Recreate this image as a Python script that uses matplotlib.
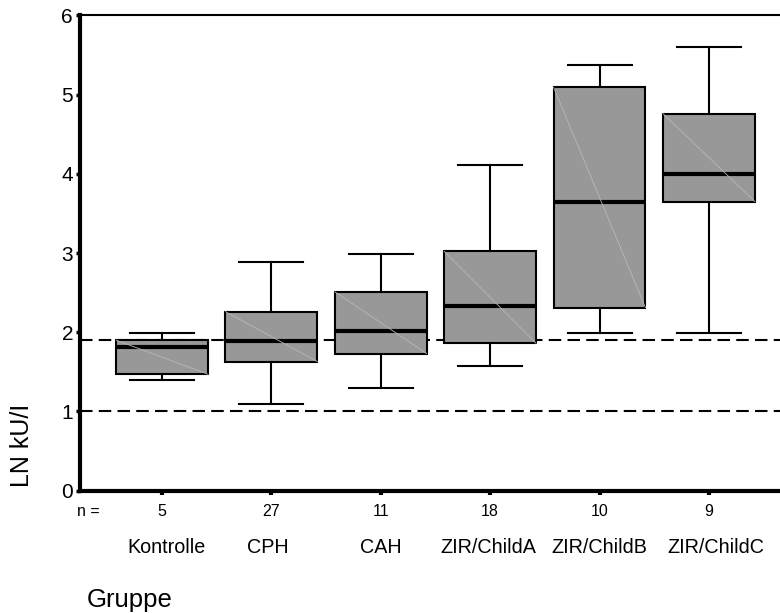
import matplotlib
matplotlib.use("Agg")
import matplotlib.pyplot as plt

plt.rcParams['font.family'] = ['Liberation Sans', 'DejaVu Sans']

categories = ["Kontrolle", "CPH", "CAH", "ZIR/ChildA", "ZIR/ChildB", "ZIR/ChildC"]
counts = [5, 27, 11, 18, 10, 9]
whislo = [1.40, 1.10, 1.30, 1.58, 1.99, 1.99]
q1 = [1.47, 1.63, 1.73, 1.86, 2.31, 3.65]
med = [1.81, 1.89, 2.02, 2.33, 3.65, 4.00]
q3 = [1.90, 2.26, 2.51, 3.02, 5.09, 4.76]
whishi = [1.99, 2.89, 2.99, 4.11, 5.37, 5.60]
ref_lines = [1.0, 1.9]
y_ticks = [0, 1, 2, 3, 4, 5, 6]

fig = plt.figure(figsize=(7.8, 6.13), dpi=100)
ax = fig.add_axes([0.1026, 0.1995, 0.8974, 0.7755])

positions = list(range(1, len(categories) + 1))
stats = []
for i, c in enumerate(categories):
    stats.append(dict(label=c, whislo=whislo[i], q1=q1[i], med=med[i],
                      q3=q3[i], whishi=whishi[i], fliers=[]))

for y in ref_lines:
    ax.axhline(y, color='black', lw=1.5, ls=(0, (6, 3)), zorder=1)

bp = ax.bxp(stats, positions=positions, widths=0.84, capwidths=0.585,
            patch_artist=True, showfliers=False, manage_ticks=False,
            boxprops=dict(facecolor='#989898', edgecolor='black', linewidth=1.5),
            medianprops=dict(color='black', linewidth=3),
            whiskerprops=dict(color='black', linewidth=1.5),
            capprops=dict(color='black', linewidth=1.5))
for b in bp['boxes']:
    b.set_zorder(2)

# faint diagonal artifact inside boxes
for i, p in enumerate(positions):
    ax.plot([p - 0.42, p + 0.42], [q3[i], q1[i]], color='#b8b8b8', lw=0.6, zorder=2.5)

ax.set_xlim(0.25, 6.65)
ax.set_ylim(0, 6)
ax.set_yticks(y_ticks)
ax.set_yticklabels([str(t) for t in y_ticks], fontsize=15)
ax.set_xticks(positions)
ax.set_xticklabels([])
ax.tick_params(axis='y', length=3, width=2.5, pad=2)
ax.tick_params(axis='x', length=3, width=3, direction='out')

ax.spines['right'].set_visible(False)
ax.spines['left'].set_linewidth(3)
ax.spines['bottom'].set_linewidth(3)
ax.spines['top'].set_linewidth(1.5)

trans = ax.get_xaxis_transform()
for p, n in zip(positions, counts):
    ax.text(p, -0.043, str(n), transform=trans, ha='center', va='center', fontsize=11.5)
ax.text(0.33, -0.043, "n =", transform=trans, ha='center', va='center', fontsize=11.5)

label_offsets = [0.04, -0.03, 0.0, -0.02, 0.0, 0.06]
for p, c, o in zip(positions, categories, label_offsets):
    ax.text(p + o, -0.12, c, transform=trans, ha='center', va='center', fontsize=14.2)

fig.text(87 / 780, 1 - 600 / 613, "Gruppe", ha='left', va='center', fontsize=18.5)
fig.text(22 / 780, 1 - 445 / 613, "LN kU/I", ha='center', va='center',
         rotation=90, fontsize=18)

fig.savefig("out.png", dpi=100)
